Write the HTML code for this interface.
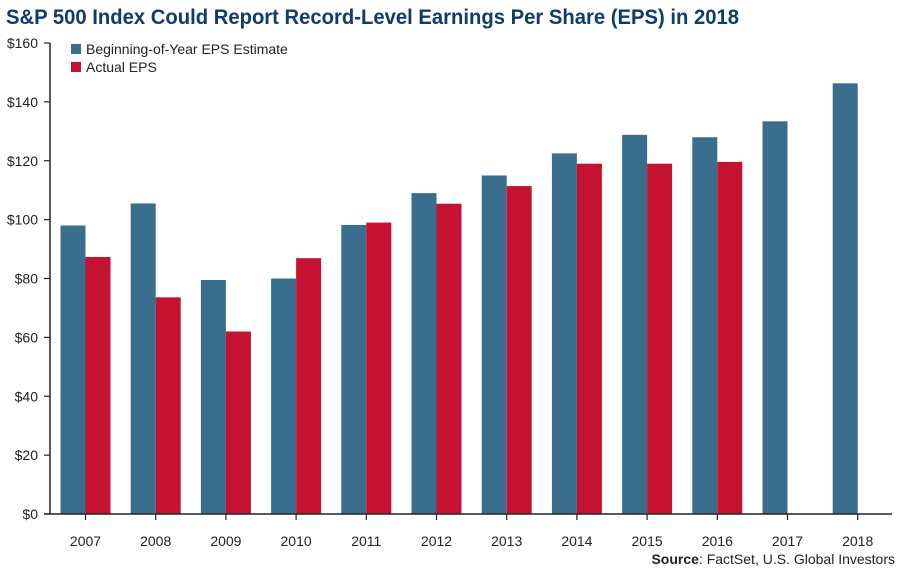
<!DOCTYPE html>
<html><head><meta charset="utf-8"><style>
body{margin:0;background:#fff;font-family:"Liberation Sans",sans-serif}
svg text{font-family:"Liberation Sans",sans-serif}
</style></head><body>
<svg id="c" width="900" height="570">
<text x="6" y="24" font-size="21" font-weight="bold" fill="#0d3c6e" textLength="733" lengthAdjust="spacingAndGlyphs">S&amp;P 500 Index Could Report Record-Level Earnings Per Share (EPS) in 2018</text>
<g>
<rect x="71" y="44" width="10" height="10" fill="#3a6e8f"/>
<text x="86" y="54" font-size="14" fill="#222">Beginning-of-Year EPS Estimate</text>
<rect x="71" y="62" width="10" height="10" fill="#c41230"/>
<text x="86" y="72" font-size="14" fill="#222">Actual EPS</text>
</g>
<text x="895" y="564" font-size="14" fill="#222" text-anchor="end"><tspan font-weight="bold">Source</tspan>: FactSet, U.S. Global Investors</text>
</svg>
<script>
const categories=["2007","2008","2009","2010","2011","2012","2013","2014","2015","2016","2017","2018"];
const estimateValues=[98,105.5,79.5,80,98.2,109,115,122.5,128.8,128,133.4,146.3];
const actualValues=[87.3,73.6,62,86.9,99,105.4,111.4,119,119,119.6,null,null];
const yTicks=[0,20,40,60,80,100,120,140,160];
const svg=document.getElementById('c');
const NS='http://www.w3.org/2000/svg';
const y0=514,yTop=43,yMax=160;
const y=v=>y0-(v/yMax)*(y0-yTop);
const step=70.2,x0=85.5;
const x=i=>x0+i*step;
function mk(t,a){const e=document.createElementNS(NS,t);for(const k in a)e.setAttribute(k,a[k]);svg.appendChild(e);return e;}
categories.forEach((c,i)=>{
  const cx=x(i);
  const b=mk('rect',{x:cx-25,y:y(estimateValues[i]),width:25,height:y0-y(estimateValues[i]),fill:'#3a6e8f'});
  
  
  if(actualValues[i]!=null){
    const r=mk('rect',{x:cx,y:y(actualValues[i]),width:25,height:y0-y(actualValues[i]),fill:'#c41230'});
    
    
  }
  const tk=mk('line',{x1:cx,x2:cx,y1:y0,y2:y0+6,stroke:'#222','stroke-width':1.2});
  
  
  const t=mk('text',{x:cx,y:y0+32,'font-size':14,'text-anchor':'middle',fill:'#222'});
  t.textContent=c;
  
  
});
yTicks.forEach(v=>{
  const tk=mk('line',{x1:44,x2:50,y1:y(v),y2:y(v),stroke:'#222','stroke-width':1.2});
  
  
  const t=mk('text',{x:38,y:y(v)+5,'font-size':14,'text-anchor':'end',fill:'#222'});
  t.textContent='$'+v;
  
  
});
const ya=mk('line',{x1:50,x2:50,y1:yTop,y2:y0,stroke:'#222','stroke-width':1.5});


const xa=mk('line',{x1:44,x2:892,y1:y0,y2:y0,stroke:'#222','stroke-width':1.5});


</script>
</body></html>
